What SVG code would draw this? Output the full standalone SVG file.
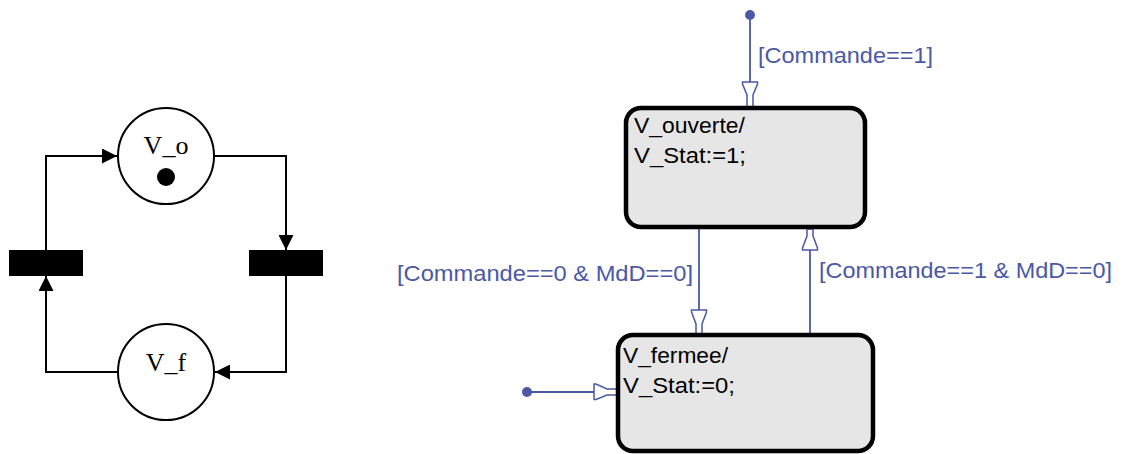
<svg xmlns="http://www.w3.org/2000/svg" width="1132" height="454" viewBox="0 0 1132 454">
<defs>
<marker id="ah" viewBox="0 0 10 10" refX="10" refY="5" markerWidth="15" markerHeight="15" markerUnits="userSpaceOnUse" orient="auto">
<path d="M0,0 L10,5 L0,10 z" fill="#000"/>
</marker>
<circle id="jdot" r="5" fill="#4a58a6"/>
</defs>
<style>
.pn{fill:none;stroke:#000;stroke-width:2}
.pl{fill:#fff;stroke:#000;stroke-width:2}
.pt{font-family:"Liberation Serif",serif;font-size:26px;fill:#000}
.st{fill:#e6e6e6;stroke:#000;stroke-width:4.5}
.sx{font-family:"Liberation Sans",Arial,sans-serif;font-size:22.5px;fill:#000}
.tr{fill:none;stroke:#4a58a6;stroke-width:1.8}
.fn{fill:#fff;stroke:#4a58a6;stroke-width:1.5}
.lb{font-family:"Liberation Sans",Arial,sans-serif;font-size:22px;fill:#4a58a6}
</style>
<rect width="1132" height="454" fill="#fff"/>

<g id="connectors">
<path class="pn" d="M46,250 V156 H117" marker-end="url(#ah)"/>
<path class="pn" d="M214,156 H286 V250" marker-end="url(#ah)"/>
<path class="pn" d="M286,276 V372 H215" marker-end="url(#ah)"/>
<path class="pn" d="M117,372 H46 V276" marker-end="url(#ah)"/>

<g id="t-init-top">
<use href="#jdot" x="750" y="15"/>
<path class="tr" d="M750,15 V84"/>
<path class="fn" d="M742.5,82 H757.5 V84 L753,95 V107 H747 V95 L742.5,84 Z"/>
<text class="lb" x="758" y="63" textLength="175" lengthAdjust="spacingAndGlyphs">[Commande==1]</text>
</g>
<g id="t-close">
<path class="tr" d="M699,229 V312"/>
<path class="fn" d="M691.5,310 H706.5 V312 L702,324 V335 H696 V324 L691.5,312 Z"/>
<text class="lb" x="397" y="281" textLength="296" lengthAdjust="spacingAndGlyphs">[Commande==0 &amp; MdD==0]</text>
</g>
<g id="t-open">
<path class="tr" d="M810,335 V250"/>
<path class="fn" d="M802.5,250 H817.5 V248 L813,236 V229 H807 V236 L802.5,248 Z"/>
<text class="lb" x="819" y="278" textLength="293" lengthAdjust="spacingAndGlyphs">[Commande==1 &amp; MdD==0]</text>
</g>
<g id="t-init-bottom">
<use href="#jdot" x="527" y="392"/>
<path class="tr" d="M527,392 H596"/>
<path class="fn" d="M594,384 V399.5 H596 L607,395 H618 V389 H607 L596,384 Z"/>
</g>
</g>

<g id="place-Vo">
<circle class="pl" cx="166" cy="156" r="48"/>
<text class="pt" x="166" y="154" text-anchor="middle">V_o</text>
<circle cx="166" cy="177" r="9" fill="#000"/>
</g>
<g id="place-Vf">
<circle class="pl" cx="166" cy="372" r="48"/>
<text class="pt" x="166" y="371" text-anchor="middle">V_f</text>
</g>
<g id="transition-left">
<rect x="9" y="250" width="74" height="26" fill="#000"/>
</g>
<g id="transition-right">
<rect x="249" y="250" width="74" height="26" fill="#000"/>
</g>

<g id="state-ouverte">
<rect class="st" x="626" y="108" width="239" height="119" rx="15"/>
<text class="sx" x="634" y="133" textLength="111" lengthAdjust="spacingAndGlyphs">V_ouverte/</text>
<text class="sx" x="634" y="163" textLength="112" lengthAdjust="spacingAndGlyphs">V_Stat:=1;</text>
</g>
<g id="state-fermee">
<rect class="st" x="618" y="335" width="255" height="116" rx="15"/>
<text class="sx" x="623" y="363" textLength="105" lengthAdjust="spacingAndGlyphs">V_fermee/</text>
<text class="sx" x="623" y="393" textLength="112" lengthAdjust="spacingAndGlyphs">V_Stat:=0;</text>
</g>
</svg>
